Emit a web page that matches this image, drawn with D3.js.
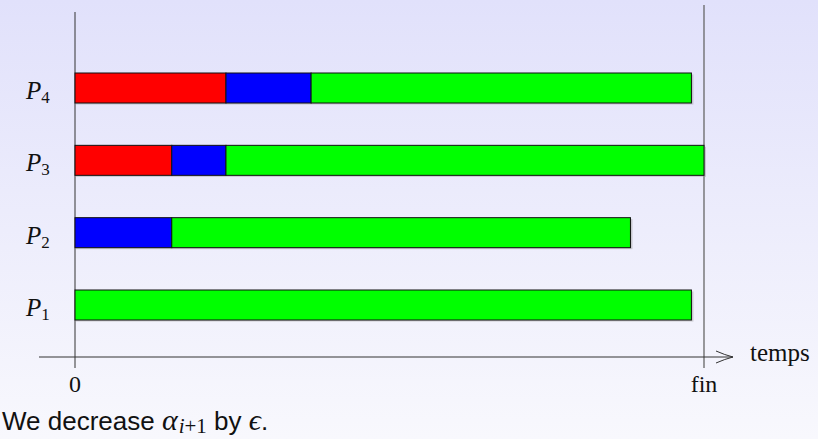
<!DOCTYPE html>
<html>
<head>
<meta charset="utf-8">
<script src="https://cdn.jsdelivr.net/npm/d3@7"></script>
<style>
  body { margin: 0; }
  svg { display: block; }
</style>
</head>
<body>
<svg width="818" height="439"></svg>
<script>
// processes, top to bottom order handled by the scale
var procs = [1, 2, 3, 4];
// durations of each phase per process (time units, fin = 6.5)
var redDur = [0, 0, 1.0, 1.56];
var blueDur = [0, 1.0, 0.56, 0.88];
var greenDur = [6.37, 4.74, 4.94, 3.93];
var tickVals = [0, 6.5];
var tickText = ['0', 'fin'];
var caption = 'We decrease ';

var svg = d3.select('svg');

var defs = svg.append('defs');
var grad = defs.append('linearGradient')
    .attr('id', 'bg').attr('x1', 0).attr('y1', 0).attr('x2', 0).attr('y2', 1);
grad.append('stop').attr('offset', '0%').attr('stop-color', '#e1e1fb');
grad.append('stop').attr('offset', '100%').attr('stop-color', '#f8f8fd');

svg.append('rect').attr('width', 818).attr('height', 439).attr('fill', 'url(#bg)');

var x = d3.scaleLinear().domain([0, 6.5]).range([75, 704]);
var y = d3.scalePoint().domain([4, 3, 2, 1]).range([88, 305]);
var barH = 30;
var serif = '"Liberation Serif", serif';

// build segments
var segs = [];
procs.forEach(function (p, i) {
    var t = 0;
    [[redDur[i], '#ff0000'], [blueDur[i], '#0000ff'], [greenDur[i], '#00ff00']].forEach(function (d) {
        if (d[0] > 0) {
            segs.push({ p: p, s: t, e: t + d[0], c: d[1] });
            t += d[0];
        }
    });
});

// axes lines
svg.append('line')
    .attr('x1', x(0)).attr('x2', x(0)).attr('y1', 12).attr('y2', 368)
    .attr('stroke', '#333').attr('stroke-width', 1);
svg.append('line')
    .attr('x1', x(6.5)).attr('x2', x(6.5)).attr('y1', 5).attr('y2', 368)
    .attr('stroke', '#666').attr('stroke-width', 1.3);

// shadows
svg.selectAll('.shadow')
    .data(procs)
    .enter().append('rect')
    .attr('x', function (p, i) { return x(0) + 1; })
    .attr('y', function (p) { return y(p) - barH / 2 + 1.5; })
    .attr('width', function (p, i) { return x(redDur[i] + blueDur[i] + greenDur[i]) - x(0) + 1; })
    .attr('height', barH)
    .attr('fill', '#999').attr('opacity', 0.45);

svg.selectAll('.bar')
    .data(segs)
    .enter().append('rect')
    .attr('class', 'bar')
    .attr('x', function (d) { return x(d.s); })
    .attr('y', function (d) { return y(d.p) - barH / 2; })
    .attr('width', function (d) { return x(d.e) - x(d.s); })
    .attr('height', barH)
    .attr('fill', function (d) { return d.c; })
    .attr('stroke', '#111').attr('stroke-width', 1);

// y labels
var lab = svg.selectAll('.plab')
    .data(procs)
    .enter().append('text')
    .attr('x', 26)
    .attr('y', function (p) { return y(p) + 11; })
    .style('font-family', serif)
    .style('font-size', '25px')
    .attr('fill', '#111');
lab.append('tspan').style('font-style', 'italic').text('P');
lab.append('tspan').attr('dy', 4).attr('dx', 0).style('font-size', '17px').text(function (p) { return p; });

// time axis with arrow
svg.append('line')
    .attr('x1', 39).attr('x2', 733).attr('y1', 357).attr('y2', 357)
    .attr('stroke', '#333').attr('stroke-width', 1);
svg.append('path')
    .attr('d', 'M716,351 Q725,355 733,357 Q725,359 716,363')
    .attr('fill', 'none').attr('stroke', '#333').attr('stroke-width', 1);

svg.selectAll('.tick')
    .data(tickVals)
    .enter().append('text')
    .attr('x', function (d) { return x(d); })
    .attr('y', 392)
    .attr('text-anchor', 'middle')
    .style('font-family', serif)
    .style('font-size', '24px')
    .attr('fill', '#111')
    .text(function (d, i) { return tickText[i]; });

svg.append('text')
    .attr('x', 750).attr('y', 361)
    .style('font-family', serif)
    .style('font-size', '25px')
    .attr('fill', '#111')
    .text('temps');

// caption
var cap = svg.append('text')
    .attr('x', 2).attr('y', 430)
    .style('font-family', '"Liberation Sans", sans-serif')
    .style('font-size', '26px')
    .attr('fill', '#111');
cap.append('tspan').text(caption);
cap.append('tspan').style('font-family', serif).style('font-style', 'italic').style('font-size', '30px').text('α');
cap.append('tspan').attr('dy', 3).attr('dx', 1).style('font-family', serif).style('font-size', '21px')
    .html('<tspan font-style="italic">i</tspan>+1');
cap.append('tspan').attr('dy', -3).text(' by ');
cap.append('tspan').style('font-family', serif).style('font-style', 'italic').style('font-size', '30px').text('ϵ');
cap.append('tspan').text('.');
</script>
</body>
</html>
